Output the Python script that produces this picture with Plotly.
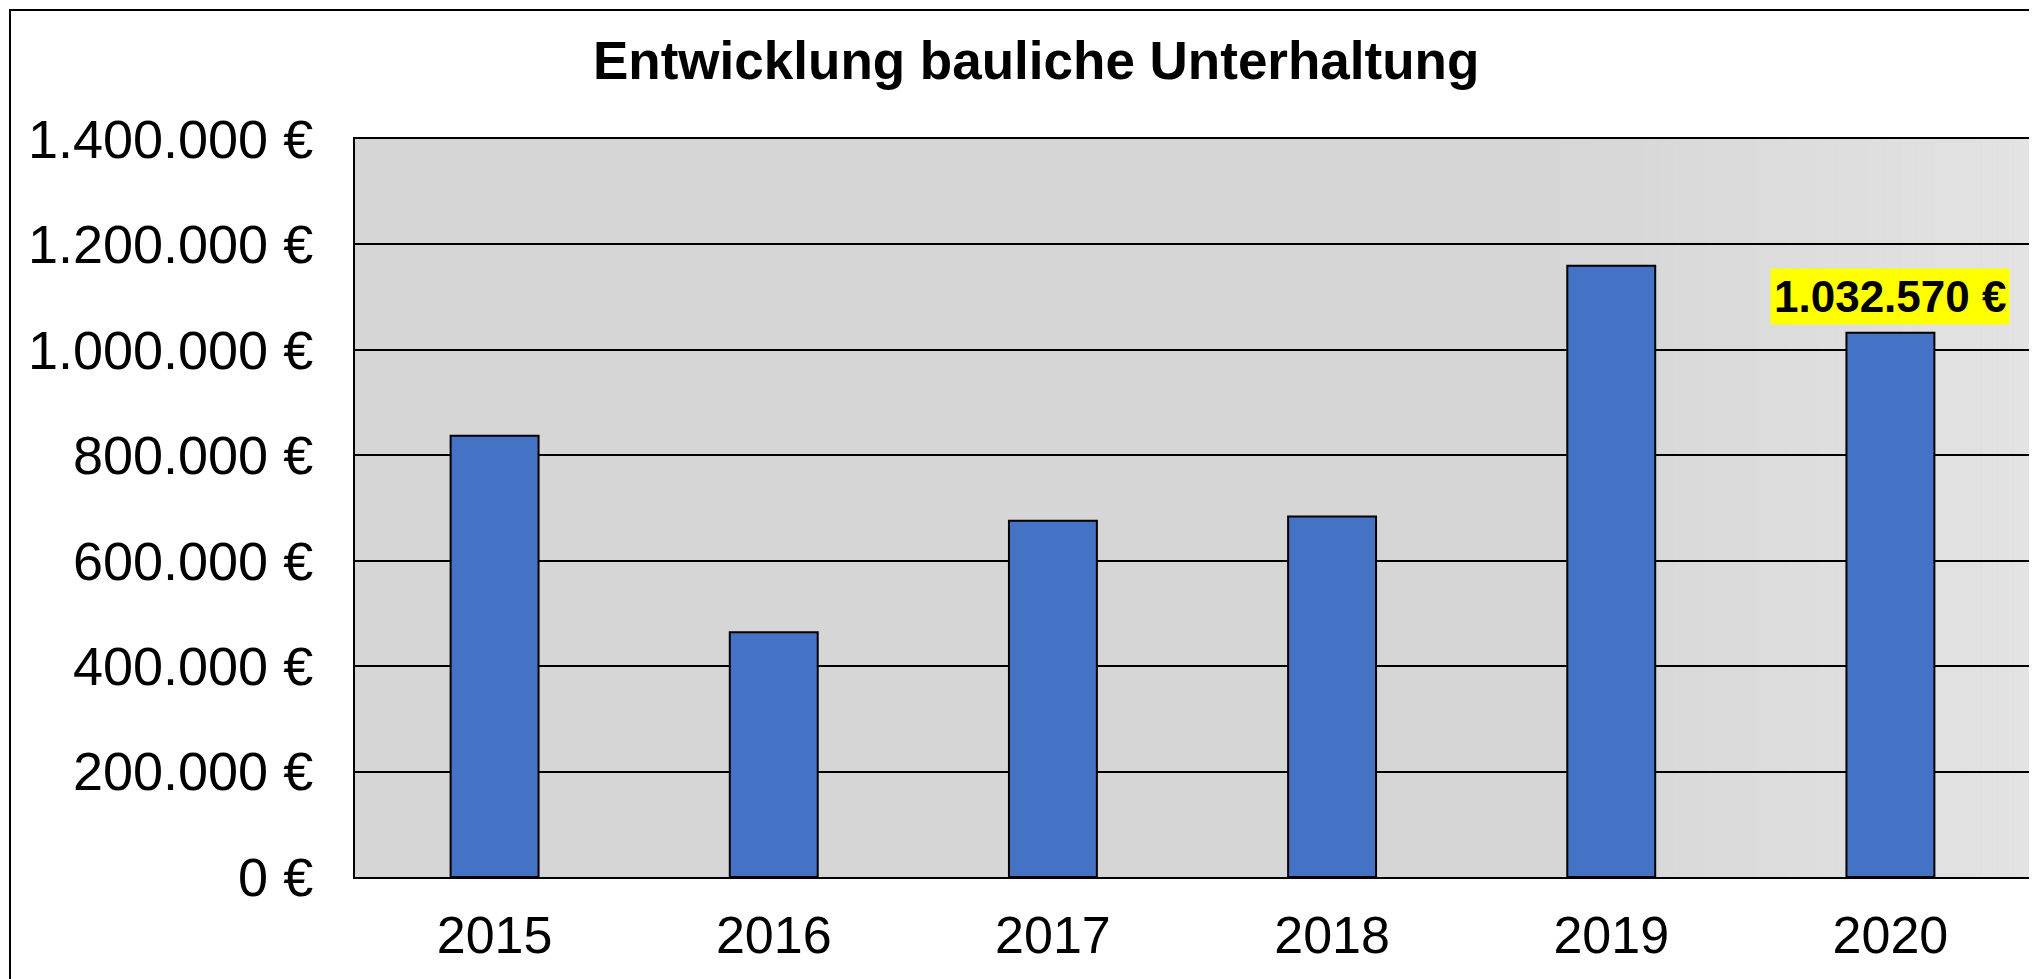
import plotly.graph_objects as go

years = ["2015", "2016", "2017", "2018", "2019", "2020"]
costs = [837000, 464500, 676000, 684000, 1159500, 1032570]
y_tick_vals = [0, 200000, 400000, 600000, 800000, 1000000, 1200000, 1400000]
y_tick_text = ["0 €", "200.000 €", "400.000 €", "600.000 €", "800.000 €",
               "1.000.000 €", "1.200.000 €", "1.400.000 €"]
title_text = "Entwicklung bauliche Unterhaltung"
label_text = "1.032.570 €"
label_year = "2020"
label_value = 1032570

W, H = 2037, 979
OFF = 8  # page body margin offset
# desired page positions of plot area
PL, PR, PT, PB = 355, 2030, 139, 877
L = PL - OFF
T = PT - OFF
R = W - (PR - OFF)
B = H - (PB - OFF)
pw = W - L - R
ph = H - T - B
FONT = "Liberation Sans, Arial, sans-serif"


def px_to_paper_x(px):
    return (px - OFF - L) / pw


def px_to_paper_y(py):
    return (H - B - (py - OFF)) / ph


fig = go.Figure()
fig.add_trace(go.Bar(
    x=years, y=costs, width=0.315,
    marker=dict(color="#4472C4", line=dict(color="black", width=2)),
    hoverinfo="x+y",
))

shapes = []
# subtle horizontal gradient toward right side of the plot background
g0 = 0.71
n = 30
c0, c1 = 0xD6, 0xE3
for i in range(n):
    a = g0 + (1 - g0) * i / n
    b = g0 + (1 - g0) * (i + 1) / n
    c = round(c0 + (c1 - c0) * (i + 0.5) / n)
    shapes.append(dict(type="rect", xref="x domain", yref="y domain",
                       x0=a, x1=b, y0=0, y1=1, layer="below",
                       line=dict(width=0), fillcolor=f"rgb({c},{c},{c})"))
# outer chart frame (continues beyond the cropped image on right/bottom)
shapes.append(dict(type="rect", xref="paper", yref="paper",
                   x0=px_to_paper_x(10), x1=px_to_paper_x(W + 60),
                   y0=px_to_paper_y(H + 60), y1=px_to_paper_y(10),
                   line=dict(color="black", width=2), fillcolor="rgba(0,0,0,0)",
                   layer="above"))

fig.update_layout(
    width=W, height=H,
    margin=dict(l=L, r=R, t=T, b=B, pad=0, autoexpand=False),
    paper_bgcolor="white",
    plot_bgcolor="#D6D6D6",
    showlegend=False,
    font=dict(family=FONT, color="black", size=52),
    shapes=shapes,
    annotations=[
        dict(text="<b>" + title_text + "</b>", xref="paper", yref="paper",
             x=px_to_paper_x(1036), y=px_to_paper_y(60), xanchor="center", yanchor="middle",
             showarrow=False, font=dict(family=FONT, size=53, color="black")),
        dict(text="<b>" + label_text + "</b>", x=years.index(label_year), y=label_value,
             xref="x", yref="y", xanchor="center", yanchor="bottom", yshift=8,
             showarrow=False, bgcolor="#FFFF00", borderpad=3,
             font=dict(family=FONT, size=44, color="black")),
    ],
)
fig.update_xaxes(
    type="category", range=[-0.5, 5.5], automargin=False,
    showline=True, linecolor="black", linewidth=2, mirror=True,
    showgrid=False, ticks="", ticklabelstandoff=12,
    tickfont=dict(family=FONT, size=52, color="black"),
)
fig.update_yaxes(
    range=[0, 1400000], tickvals=y_tick_vals, ticktext=y_tick_text, automargin=False,
    showline=True, linecolor="black", linewidth=2, mirror=True,
    showgrid=True, gridcolor="black", gridwidth=2, zeroline=False,
    ticks="", ticklabelstandoff=29,
    tickfont=dict(family=FONT, size=54, color="black"),
)

fig.write_html("out.html")
